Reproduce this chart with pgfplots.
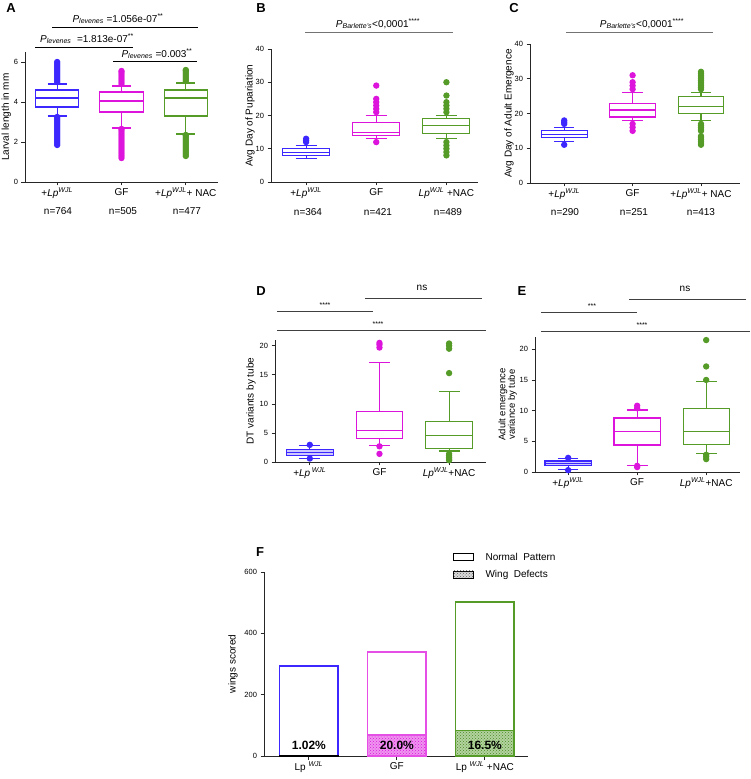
\documentclass[border=0pt]{standalone}
\usepackage{fontspec}
\setmainfont{Liberation Sans}
\usepackage{pgfplots}
\pgfplotsset{compat=1.18}
\usepgfplotslibrary{statistics}
\usetikzlibrary{patterns}
\definecolor{cblue}{RGB}{60,40,255}
\definecolor{cmag}{RGB}{220,20,220}
\definecolor{cgreen}{RGB}{85,155,40}
\newcommand\Lp{\textit{Lp}\textsuperscript{\textit{WJL}}}
\newcommand\Plev{\textit{P}\textsubscript{\textit{levenes}}}
\newcommand\Pbar{\textit{P}\textsubscript{\textit{Barlette's}}}
\pgfplotsset{
  panel/.style={scale only axis, anchor=south west, clip=false,
    axis x line*=bottom, axis y line*=left,
    axis line style={line width=0.8pt, black!85},
    tick style={line width=0.8pt, black!85},
    tick align=outside, major tick length=3.5pt,
    xtick={0,1,2},
    /pgf/number format/assume math mode=true,
    yticklabel style={font=\fontsize{7.5}{9}\selectfont},
    xticklabel style={font=\fontsize{10}{12}\selectfont, yshift=1pt},
    ylabel style={font=\fontsize{10}{12}\selectfont},
    ylabel shift=-6pt,
  },
  bx/.style={boxplot/draw direction=y, boxplot/box extend=0.67,
    boxplot/whisker extend=0.3, mark=*, line width=1.1pt, mark size=2.6pt},
}
\begin{document}
\begin{tikzpicture}[x=1pt,y=1pt]
\useasboundingbox (0,0) rectangle (750,779);
% ---------------- A
\begin{axis}[panel, at={(25pt,597pt)}, width=193pt, height=130pt,
  xmin=-0.5, xmax=2.5, ymin=0, ymax=6.5, ytick={0,2,4,6},
  xticklabels={{+\Lp}, GF, {+\Lp+ NAC}},
  ylabel={Larval length in mm}, ylabel shift=-4pt]
\addplot[bx, cblue, boxplot prepared={draw position=0, lower whisker=3.3, lower quartile=3.75, median=4.2, upper quartile=4.6, upper whisker=4.9}]
 coordinates {(0,5.0)(0,5.1)(0,5.2)(0,5.3)(0,5.4)(0,5.5)(0,5.6)(0,5.7)(0,5.8)(0,5.9)(0,6.0)
 (0,1.85)(0,1.95)(0,2.05)(0,2.15)(0,2.25)(0,2.35)(0,2.45)(0,2.55)(0,2.65)(0,2.75)(0,2.85)(0,2.95)(0,3.05)(0,3.15)(0,3.25)};
\addplot[bx, cmag, boxplot prepared={draw position=1, lower whisker=2.7, lower quartile=3.5, median=4.05, upper quartile=4.5, upper whisker=4.8}]
 coordinates {(1,4.9)(1,5.0)(1,5.1)(1,5.2)(1,5.3)(1,5.4)(1,5.5)(1,5.55)
 (1,1.2)(1,1.3)(1,1.4)(1,1.5)(1,1.6)(1,1.7)(1,1.8)(1,1.9)(1,2.0)(1,2.1)(1,2.2)(1,2.3)(1,2.4)(1,2.5)(1,2.6)(1,2.65)};
\addplot[bx, cgreen, boxplot prepared={draw position=2, lower whisker=2.4, lower quartile=3.3, median=4.2, upper quartile=4.6, upper whisker=4.95}]
 coordinates {(2,5.05)(2,5.15)(2,5.25)(2,5.35)(2,5.45)(2,5.55)(2,5.6)
 (2,1.3)(2,1.4)(2,1.5)(2,1.6)(2,1.7)(2,1.8)(2,1.9)(2,2.0)(2,2.1)(2,2.2)(2,2.3)(2,2.35)};
\end{axis}
% ---------------- B
\begin{axis}[panel, at={(271pt,597pt)}, width=207pt, height=133pt,
  xmin=-0.5, xmax=2.45, ymin=0, ymax=40, ytick={0,10,20,30,40},
  xticklabels={{+\Lp}, GF, {\Lp\ +NAC}},
  ylabel={Avg Day of Pupariation}]
\addplot[bx, cblue, boxplot prepared={draw position=0, lower whisker=7, lower quartile=8, median=9, upper quartile=10, upper whisker=11}]
 coordinates {(0,12)(0,12.5)(0,13)};
\addplot[bx, cmag, boxplot prepared={draw position=1, lower whisker=13, lower quartile=14, median=15, upper quartile=18, upper whisker=20}]
 coordinates {(1,21)(1,22)(1,23)(1,24)(1,25)(1,29)(1,12)};
\addplot[bx, cgreen, boxplot prepared={draw position=2, lower whisker=13, lower quartile=14.5, median=17, upper quartile=19, upper whisker=20}]
 coordinates {(2,21)(2,22)(2,23)(2,24)(2,26)(2,30)(2,12)(2,11)(2,10)(2,9)(2,8)};
\end{axis}
% ---------------- C
\begin{axis}[panel, at={(530pt,596pt)}, width=210pt, height=139pt,
  xmin=-0.5, xmax=2.57, ymin=0, ymax=40, ytick={0,10,20,30,40},
  xticklabels={{+\Lp}, GF, {+\Lp+ NAC}},
  ylabel={Avg Day of Adult Emergence}]
\addplot[bx, cblue, boxplot prepared={draw position=0, lower whisker=12, lower quartile=13, median=14, upper quartile=15, upper whisker=16}]
 coordinates {(0,17)(0,17.5)(0,18)(0,11)};
\addplot[bx, cmag, boxplot prepared={draw position=1, lower whisker=18, lower quartile=19, median=21, upper quartile=23, upper whisker=26}]
 coordinates {(1,27)(1,28)(1,29)(1,31)(1,15)(1,16)(1,17)};
\addplot[bx, cgreen, boxplot prepared={draw position=2, lower whisker=18, lower quartile=20, median=22, upper quartile=25, upper whisker=26}]
 coordinates {(2,27)(2,27.5)(2,28)(2,28.5)(2,29)(2,29.5)(2,30)(2,30.5)(2,31)(2,31.5)(2,32)
 (2,11)(2,11.5)(2,12)(2,12.5)(2,13)(2,13.5)(2,15)(2,15.5)(2,16)(2,16.5)(2,17)};
\end{axis}
% ---------------- D
\begin{axis}[panel, at={(275pt,317pt)}, width=211pt, height=122pt,
  xmin=-0.5, xmax=2.53, ymin=0, ymax=21, ytick={0,5,10,15,20},
  xticklabels={{+\textit{Lp}\,\textsuperscript{\textit{WJL}}}, GF, {\Lp+NAC}},
  ylabel={DT variants by tube}, ylabel shift=-3pt]
\addplot[bx, cblue, fill=cblue!25, mark options={fill=cblue}, boxplot prepared={draw position=0, lower whisker=0.6, lower quartile=1.1, median=1.6, upper quartile=2.2, upper whisker=2.8}]
 coordinates {(0,2.95)(0,0.6)};
\addplot[bx, cmag, boxplot prepared={draw position=1, lower whisker=2.9, lower quartile=4.1, median=5.4, upper quartile=8.7, upper whisker=17.2}]
 coordinates {(1,19.7)(1,20.2)(1,20.5)(1,2.7)(1,1.4)};
\addplot[bx, cgreen, boxplot prepared={draw position=2, lower whisker=1.9, lower quartile=2.3, median=4.6, upper quartile=7.0, upper whisker=12.2}]
 coordinates {(2,15.3)(2,19.5)(2,20.0)(2,20.4)(2,1.4)(2,1.1)(2,0.8)(2,0.5)(2,0.3)};
\end{axis}
% ---------------- E
\begin{axis}[panel, at={(535pt,307pt)}, width=205pt, height=135pt,
  xmin=-0.48, xmax=2.49, ymin=0, ymax=22, ytick={0,5,10,15,20},
  xticklabels={{+\Lp}, GF, {\Lp+NAC}},
  ylabel={Adult emergence\\variance by tube},
  ylabel style={align=center, font=\fontsize{9.5}{9.5}\selectfont}, ylabel shift=-4pt]
\addplot[bx, cblue, fill=cblue!25, mark options={fill=cblue}, boxplot prepared={draw position=0, lower whisker=0.4, lower quartile=1.1, median=1.4, upper quartile=1.8, upper whisker=2.2}]
 coordinates {(0,2.3)(0,0.3)};
\addplot[bx, cmag, boxplot prepared={draw position=1, lower whisker=1.1, lower quartile=4.4, median=6.6, upper quartile=8.8, upper whisker=10.1}]
 coordinates {(1,10.4)(1,10.8)(1,1.0)(1,0.8)};
\addplot[bx, cgreen, boxplot prepared={draw position=2, lower whisker=3.0, lower quartile=4.5, median=6.6, upper quartile=10.3, upper whisker=14.8}]
 coordinates {(2,15.0)(2,17.2)(2,21.5)(2,2.8)(2,2.5)(2,2.1)};
\end{axis}
% ---------------- F
\begin{axis}[panel, at={(264pt,23pt)}, width=264pt, height=184pt,
  xmin=-0.51, xmax=2.49, ymin=0, ymax=600, ytick={0,200,400,600},
  xticklabels={{Lp \textsuperscript{\textit{WJL}}}, GF, {Lp \textsuperscript{\textit{WJL}} +NAC}},
  ylabel={wings scored}, ylabel shift=0pt]
\addplot[ybar, bar width=0.67, bar shift=0pt, draw=cblue, fill=white, line width=1.8pt] coordinates {(0,293)};
\addplot[ybar, bar width=0.67, bar shift=0pt, draw=black, fill=black, line width=0.8pt] coordinates {(0,3)};
\addplot[ybar, bar width=0.67, bar shift=0pt, draw=cmag!75, fill=white, line width=1.8pt] coordinates {(1,340)};
\addplot[ybar, bar width=0.67, bar shift=0pt, draw=cmag!75, fill=cmag!45, postaction={pattern=crosshatch dots, pattern color=cmag}, line width=1.8pt] coordinates {(1,68)};
\addplot[ybar, bar width=0.67, bar shift=0pt, draw=cgreen, fill=white, line width=1.8pt] coordinates {(2,503)};
\addplot[ybar, bar width=0.67, bar shift=0pt, draw=cgreen, fill=cgreen!45, postaction={pattern=crosshatch dots, pattern color=cgreen!90!black}, line width=1.8pt] coordinates {(2,83)};
\node[font=\bfseries\fontsize{12}{14}\selectfont] at (axis cs:0,36) {1.02\%};
\node[font=\bfseries\fontsize{12}{14}\selectfont] at (axis cs:1,36) {20.0\%};
\node[font=\bfseries\fontsize{12}{14}\selectfont] at (axis cs:2,36) {16.5\%};
\end{axis}
% ---------------- annotations
\begin{scope}[font=\fontsize{10}{12}\selectfont]
\node[font=\bfseries\fontsize{13}{15}\selectfont] at (11,771) {A};
\node[font=\bfseries\fontsize{13}{15}\selectfont] at (261,771) {B};
\node[font=\bfseries\fontsize{13}{15}\selectfont] at (514,771) {C};
\node[font=\bfseries\fontsize{13}{15}\selectfont] at (261,488) {D};
\node[font=\bfseries\fontsize{13}{15}\selectfont] at (522,488) {E};
\node[font=\bfseries\fontsize{13}{15}\selectfont] at (260,227) {F};
% A
\draw[line width=1pt] (52,751) -- (198,751);
\node at (118,760) {\Plev\ =1.056e-07\textsuperscript{**}};
\draw[line width=1pt] (35,731) -- (133,731);
\node at (87,740) {\Plev\ \ =1.813e-07\textsuperscript{**}};
\draw[line width=1pt] (113,717) -- (197,717);
\node at (157,725) {\Plev\ =0.003\textsuperscript{**}};
\node at (58,568) {n=764};
\node at (123,568) {n=505};
\node at (187,568) {n=477};
% B
\draw[line width=1pt, black!55] (305,746) -- (453,746);
\node at (378,755) {\Pbar<0,0001\textsuperscript{****}};
\node at (308,567) {n=364};
\node at (378,567) {n=421};
\node at (448,567) {n=489};
% C
\draw[line width=1pt, black!55] (566,746) -- (713,746);
\node at (642,755) {\Pbar<0,0001\textsuperscript{****}};
\node at (565,567) {n=290};
\node at (634,567) {n=251};
\node at (701,567) {n=413};
% D
\draw[line width=0.9pt, black!75] (365,481) -- (482,481);
\node at (422,491) {ns};
\draw[line width=0.9pt, black!75] (277,468) -- (373,468);
\node[font=\fontsize{7}{8}\selectfont] at (325,474) {****};
\draw[line width=0.9pt, black!75] (277,449) -- (486,449);
\node[font=\fontsize{7}{8}\selectfont] at (378,455) {****};
% E
\draw[line width=0.9pt, black!75] (629,480) -- (746,480);
\node at (685,490) {ns};
\draw[line width=0.9pt, black!75] (541,467) -- (637,467);
\node[font=\fontsize{7}{8}\selectfont] at (592,473) {***};
\draw[line width=0.9pt, black!75] (541,448) -- (750,448);
\node[font=\fontsize{7}{8}\selectfont] at (642,454) {****};
% F legend
\draw[line width=0.7pt] (453,219) rectangle (473,226);
\node[anchor=west] at (482,222.5) {Normal\ \ Pattern};
\draw[line width=0.7pt, fill=black!15, postaction={pattern=crosshatch dots, pattern color=black!60}] (453,201) rectangle (473,208);
\node[anchor=west] at (482,204) {Wing\ \ Defects};
\end{scope}
\end{tikzpicture}
\end{document}
